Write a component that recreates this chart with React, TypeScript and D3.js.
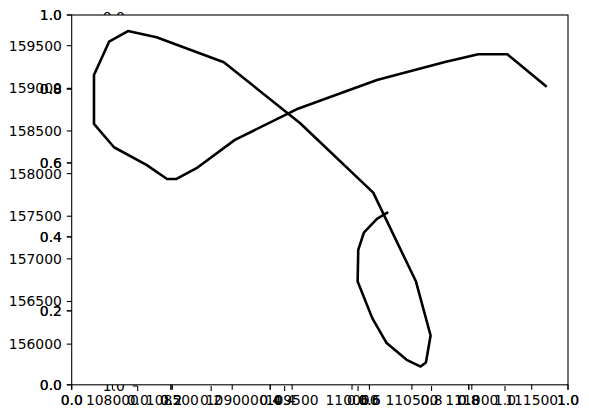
import * as d3 from "d3";

/* ------------------------------------------------------------------ */
/*  Data (easting / northing of the track)      */
/* ------------------------------------------------------------------ */

const eastings = [
  110302, 110208, 110099, 110052, 110047, 110169, 110289, 110456, 110573,
  110617, 110656, 110534, 110177, 109565, 108930, 108368, 108130, 107972,
  107846, 107846, 108013, 108284, 108456, 108535, 108702, 109022, 109537,
  110208, 110776, 111054, 111296, 111625,
];

const northings = [
  157547, 157469, 157308, 157105, 156734, 156305, 156012, 155816, 155737,
  155784, 156101, 156734, 157777, 158594, 159305, 159598, 159672, 159547,
  159156, 158582, 158309, 158102, 157937, 157937, 158063, 158395, 158754,
  159098, 159309, 159399, 159399, 159019,
];

// unit ticks of the overlaid (empty) axes
const unitTicks = [0, 0.2, 0.4, 0.6, 0.8, 1.0];

/* ------------------------------------------------------------------ */
/*  Layout                                                            */
/* ------------------------------------------------------------------ */

const W = 589;
const H = 418;
const frame = { left: 71.7, right: 568, top: 15, bottom: 384.8 };
// axes hidden underneath the main one
const under = { left: 137.7, right: 505, top: 17, bottom: 386 };

const FONT = "'DejaVu Sans', sans-serif";
const FS = 13.9;
const TICK = 4.9;
const PAD = 4.9;

export default function App() {
  const x = d3.scaleLinear().domain([107660, 111803]).range([frame.left, frame.right]);
  const y = d3.scaleLinear().domain([155523, 159860]).range([frame.bottom, frame.top]);

  const ux = d3.scaleLinear().domain([0, 1]).range([frame.left, frame.right]);
  const uy = d3.scaleLinear().domain([0, 1]).range([frame.bottom, frame.top]);

  const hx = d3.scaleLinear().domain([0, 1]).range([under.left, under.right]);
  const hy = d3.scaleLinear().domain([0, 1]).range([under.top, under.bottom]);

  const xTicks = x.ticks(8);
  const yTicks = y.ticks(8);

  const line = d3
    .line<number>()
    .x((_, i) => x(eastings[i]))
    .y((_, i) => y(northings[i]));

  const labelY = frame.bottom + TICK + PAD + 10.2;

  return (
    <div style={{ position: "absolute", left: 0, top: 0 }}>
      <svg width={W} height={H} style={{ display: "block", background: "#fff" }} fontFamily={FONT} fontSize={FS}>
        {/* hidden axes underneath */}
        <g>
          {unitTicks.map((t) => (
            <g key={`hx-${t}`}>
              <line x1={hx(t)} x2={hx(t)} y1={under.bottom} y2={under.bottom + TICK} stroke="#000" strokeWidth={1.1} />
              <text x={hx(t)} y={labelY} textAnchor="middle">{t.toFixed(1)}</text>
            </g>
          ))}
          {unitTicks.map((t) => (
            <g key={`hy-${t}`}>
              <line x1={under.left - TICK} x2={under.left} y1={hy(t)} y2={hy(t)} stroke="#000" strokeWidth={1.1} />
              <text x={under.left - TICK - PAD - 3} y={hy(t) + 5} textAnchor="end">{t.toFixed(1)}</text>
            </g>
          ))}
        </g>

        {/* main axes patch */}
        <rect x={frame.left} y={frame.top} width={frame.right - frame.left} height={frame.bottom - frame.top} fill="#fff" />

        {/* track */}
        <path d={line(eastings) ?? ""} fill="none" stroke="#000" strokeWidth={2.6} strokeLinejoin="round" />

        {/* spines */}
        <rect
          x={frame.left}
          y={frame.top}
          width={frame.right - frame.left}
          height={frame.bottom - frame.top}
          fill="none"
          stroke="#000"
          strokeWidth={1.1}
        />

        {/* data x axis */}
        {xTicks.map((t) => (
          <g key={`xt-${t}`}>
            <line x1={x(t)} x2={x(t)} y1={frame.bottom} y2={frame.bottom + TICK} stroke="#000" strokeWidth={1.1} />
            <text x={x(t)} y={labelY} textAnchor="middle">{t}</text>
          </g>
        ))}

        {/* data y axis */}
        {yTicks.map((t) => (
          <g key={`yt-${t}`}>
            <line x1={frame.left - TICK} x2={frame.left} y1={y(t)} y2={y(t)} stroke="#000" strokeWidth={1.1} />
            <text x={frame.left - TICK - PAD} y={y(t) + 5} textAnchor="end">{t}</text>
          </g>
        ))}

        {/* two overlaid unit axes (drawn twice, so they look heavier) */}
        {[0, 1].map((k) => (
          <g key={`u-${k}`}>
            {unitTicks.map((t) => (
              <g key={`ux-${t}`}>
                <line x1={ux(t)} x2={ux(t)} y1={frame.bottom} y2={frame.bottom + TICK} stroke="#000" strokeWidth={1.1} />
                <text x={ux(t)} y={labelY} textAnchor="middle">{t.toFixed(1)}</text>
              </g>
            ))}
            {unitTicks.map((t) => (
              <g key={`uy-${t}`}>
                <line x1={frame.left - TICK} x2={frame.left} y1={uy(t)} y2={uy(t)} stroke="#000" strokeWidth={1.1} />
                <text x={frame.left - TICK - PAD} y={uy(t) + 5} textAnchor="end">{t.toFixed(1)}</text>
              </g>
            ))}
          </g>
        ))}
      </svg>
    </div>
  );
}
